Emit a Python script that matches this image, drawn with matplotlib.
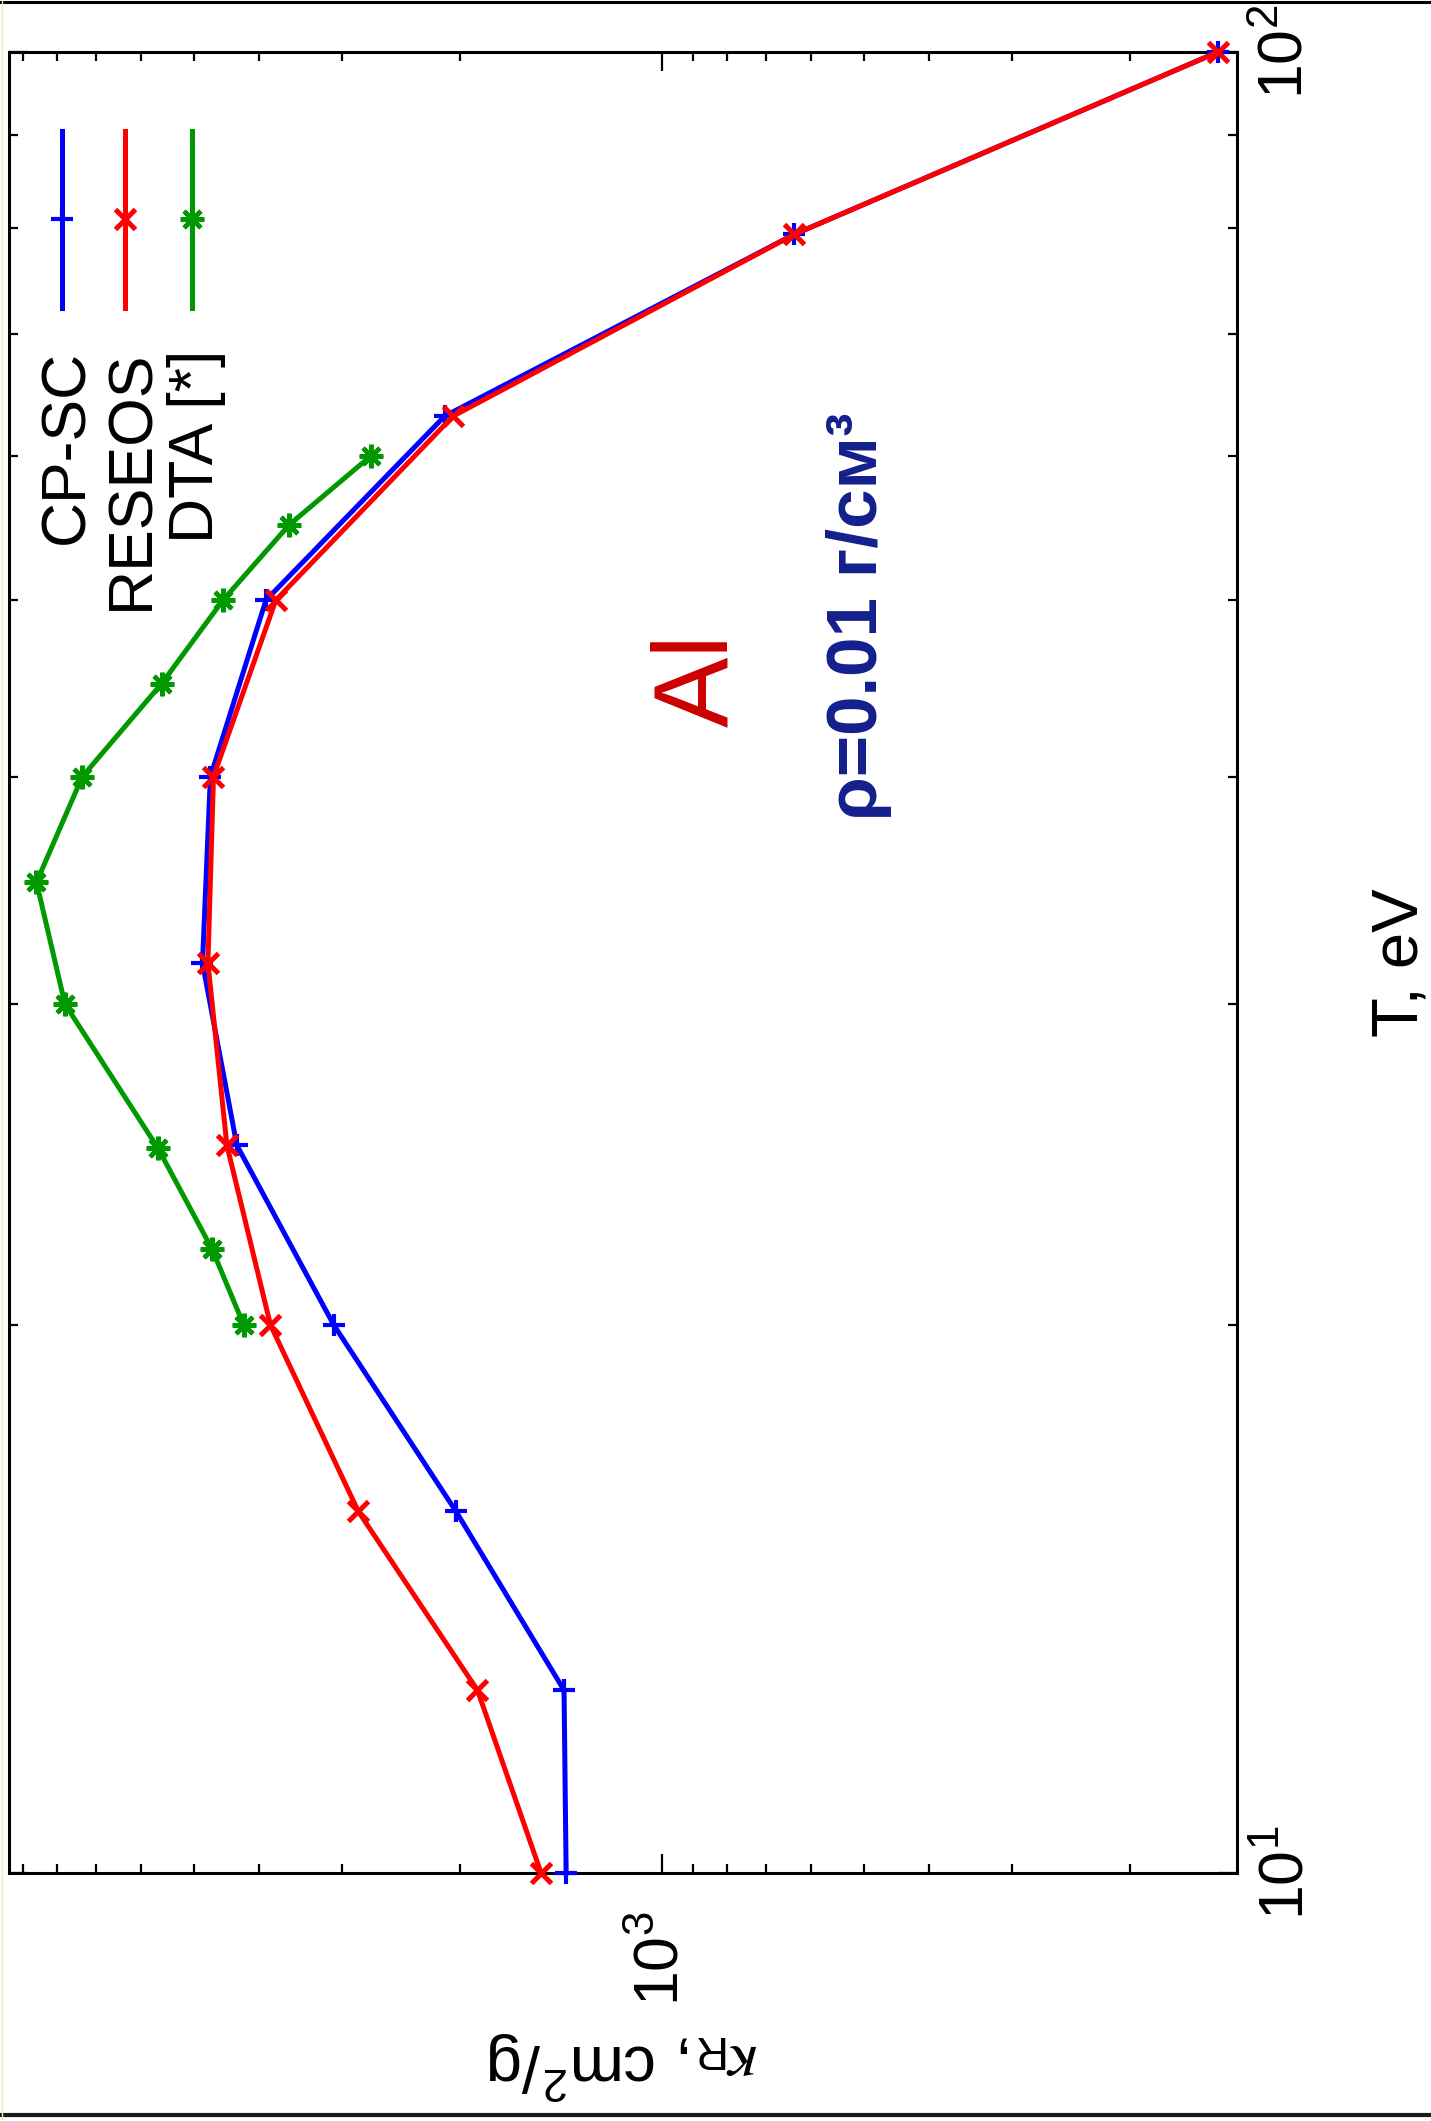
import matplotlib
matplotlib.use("Agg")
import matplotlib.pyplot as plt
from matplotlib.ticker import LogLocator, NullFormatter, LogFormatterSciNotation
from matplotlib.lines import Line2D

# Rosseland mean opacity of aluminium, rho = 0.01 g/cm^3
T_calc = [10, 12.6, 15.8, 20, 25.1, 31.6, 40, 50, 63.1, 79.4, 100]          # eV
kappa_cpsc = [1390, 1400, 2030, 3090, 4310, 4850, 4720, 3900, 2110, 635, 148]
kappa_reseos = [1515, 1885, 2840, 3840, 4460, 4760, 4670, 3770, 2050, 635, 148]
T_dta = [20, 22, 25, 30, 35, 40, 45, 50, 55, 60]                            # eV
kappa_dta = [4210, 4690, 5650, 7780, 8580, 7330, 5580, 4520, 3600, 2720]

series_names = ["CP-SC", "RESEOS", "DTA [*]"]
series_colors = ["#0000ff", "#ff0000", "#009a00"]

W, H, DPI = 1431, 2121, 100
plt.rcParams["font.family"] = ["Liberation Sans", "DejaVu Sans"]
plt.rcParams["mathtext.fontset"] = "stix"

fig = plt.figure(figsize=(W / DPI, H / DPI), dpi=DPI)

# axes box in pixels (page is laid out sideways: kappa runs right-to-left, T bottom-to-top)
L, R, TOP, BOT = 9, 1237, 52, 1873
ax = fig.add_axes([L / W, 1 - BOT / H, (R - L) / W, (BOT - TOP) / H])
ax.set_xscale("log")
ax.set_yscale("log")
ax.set_xlim(9430, 138.6)
ax.set_ylim(10, 100)

star = (8, 2, 0)  # '+' and 'x' combined
styles = [("+", 16, 3.0), ("x", 14, 3.6), (star, 17, 3.2)]
LW = 3.6

ax.plot(kappa_cpsc, T_calc, color=series_colors[0], lw=LW, marker=styles[0][0],
        ms=styles[0][1], mew=styles[0][2], clip_on=False, zorder=3)
ax.plot(kappa_reseos, T_calc, color=series_colors[1], lw=LW, marker=styles[1][0],
        ms=styles[1][1], mew=styles[1][2], clip_on=False, zorder=4)
ax.plot(kappa_dta, T_dta, color=series_colors[2], lw=LW, marker=styles[2][0],
        ms=styles[2][1], mew=styles[2][2], clip_on=False, zorder=3)

# ticks
ax.xaxis.set_major_locator(LogLocator(base=10))
ax.xaxis.set_minor_locator(LogLocator(base=10, subs=range(2, 10)))
ax.yaxis.set_major_locator(LogLocator(base=10))
ax.yaxis.set_minor_locator(LogLocator(base=10, subs=range(2, 10)))
ax.xaxis.set_major_formatter(LogFormatterSciNotation())
ax.yaxis.set_major_formatter(LogFormatterSciNotation())
ax.xaxis.set_minor_formatter(NullFormatter())
ax.yaxis.set_minor_formatter(NullFormatter())

ax.tick_params(axis="both", which="both", direction="in", top=True, bottom=True,
               left=True, right=True, width=1.6, color="black")
ax.tick_params(which="major", length=13.7)
ax.tick_params(which="minor", length=6.8)
ax.tick_params(axis="y", labelleft=False, labelright=True, labelrotation=90,
               labelsize=45, pad=14)
ax.tick_params(axis="x", labelbottom=True, labelrotation=90, labelsize=45, pad=28)
for s in ax.spines.values():
    s.set_linewidth(2.2)

fig.canvas.draw()
plt.setp(ax.get_yticklabels(), va="center")


def axfrac(xp, yp):
    return (xp - L) / (R - L), (BOT - yp) / (BOT - TOP)


# key: short vertical samples with the label text read upward beneath them
key_x = [62, 125, 192]
key_base = [83, 148, 213]
for xk, xb, name, col, (mk, ms, mew) in zip(key_x, key_base, series_names,
                                             series_colors, styles):
    x0, y0 = axfrac(xk, 308)
    _, y1 = axfrac(xk, 131)
    _, ym = axfrac(xk, 219)
    ax.plot([x0, x0], [y0, y1], transform=ax.transAxes, color=col, lw=LW,
            clip_on=False)
    ax.plot([x0], [ym], transform=ax.transAxes, color=col, marker=mk, ms=ms,
            mew=mew, clip_on=False)
    fig.text(xb / W, 1 - 350 / H, name, rotation=90, rotation_mode="anchor",
             ha="right", va="baseline", fontsize=45)

# axis titles
fig.text(1417 / W, 1 - 963 / H, "T, eV", rotation=90, rotation_mode="anchor",
         ha="center", va="baseline", fontsize=47)
fig.text(623 / W, 1 - 2065 / H, r"$\kappa_{\mathdefault{R}}$, cm$^{\mathdefault{2}}$/g",
         rotation=180, rotation_mode="anchor", ha="center", va="center",
         fontsize=47)

# annotations
fig.text(727 / W, 1 - 680 / H, "Al", rotation=90, rotation_mode="anchor",
         ha="center", va="baseline", fontsize=76, color="#cc0000")
fig.text(877 / W, 1 - 820 / H, "ρ=0.01 г/см³", rotation=90, rotation_mode="anchor",
         ha="left", va="baseline", fontsize=51, fontweight="bold", color="#13208c")

# page edges
fig.add_artist(Line2D([0, 1], [1 - 2 / H] * 2, transform=fig.transFigure,
                      color="black", lw=2.2))
fig.add_artist(Line2D([0, 1], [1 - 2115 / H] * 2, transform=fig.transFigure,
                      color="#1a1a1a", lw=3))
fig.add_artist(Line2D([1.5 / W] * 2, [0, 1], transform=fig.transFigure,
                      color="#f3ecb0", lw=1))

fig.savefig("out.png", dpi=DPI)
